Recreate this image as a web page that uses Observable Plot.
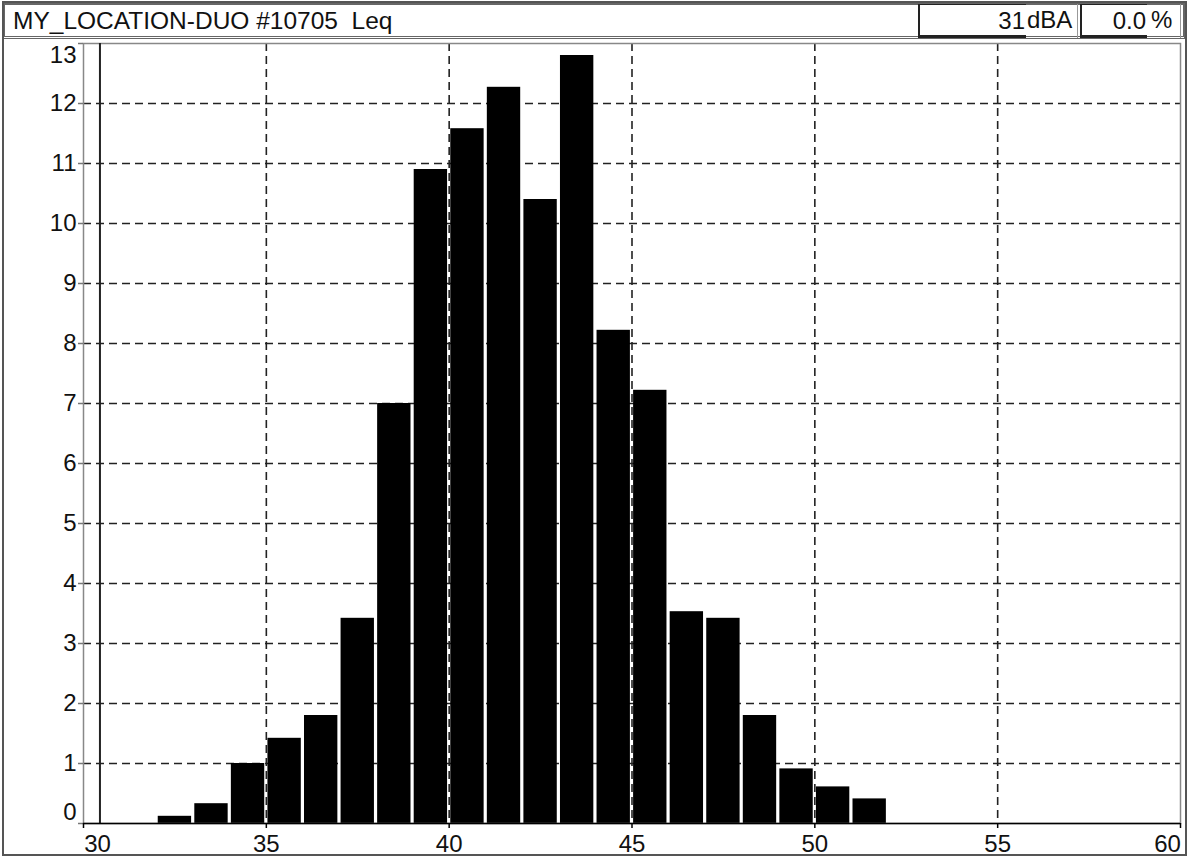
<!DOCTYPE html>
<html>
<head>
<meta charset="utf-8">
<script src="https://cdn.jsdelivr.net/npm/d3@7"></script>
<script src="https://cdn.jsdelivr.net/npm/@observablehq/plot@0.6"></script>
<style>
  html, body { margin: 0; padding: 0; background: #fff; }
  body { font-family: "Liberation Sans", Arial, sans-serif; color: #111; }
  #page { position: relative; width: 1190px; height: 858px; overflow: hidden; }
  #header { position: relative; height: 40px; }
  .cell { position: absolute; box-sizing: border-box; top: 4px; height: 34px; line-height: 32px; font-size: 24px; white-space: nowrap; }
  #outer { position: absolute; left: 2px; top: 1px; width: 1185px; height: 855px; box-sizing: border-box; border: 2px solid #555; pointer-events: none; }
</style>
</head>
<body>
<div id="page">
  <div id="header">
    <div class="cell" style="left:3px; top:3px; width:1182px; height:36px; border:2px solid #666; border-bottom:3px double #666;"></div>
    <div class="cell" id="title" style="left:13px; top:3px; line-height:36px; font-size:24.5px;"></div>
    <div class="cell" id="readout" style="left:918px; width:108px; text-align:right; padding-right:1px; border-left:2px solid #222; border-top:1px solid #222; border-bottom:3px solid #222;"></div>
    <div class="cell" id="unit" style="left:1026px; width:52px; padding-left:1px; border-right:1px solid #999;"></div>
    <div class="cell" id="pct" style="left:1080px; width:67px; text-align:right; padding-right:1px; border-left:2px solid #222; border-top:1px solid #222; border-bottom:3px solid #222;"></div>
    <div class="cell" id="pctUnit" style="left:1147px; width:34px; padding-left:4px; border-right:1px solid #999;"></div>
  </div>
  <div id="chart"></div>
  <div id="outer"></div>
</div>
<script>
// ---- data ----
const titleText = "MY_LOCATION-DUO #10705\u00a0\u00a0Leq";
const readoutValue = "31";
const readoutUnit = "dBA";
const percentValue = "0.0";
const percentUnit = "%";

// histogram bins (dBA, lower edge, 1 dB wide) and share of time (%)
const bins    = [32, 33, 34, 35, 36, 37, 38, 39, 40, 41, 42, 43, 44, 45, 46, 47, 48, 49, 50, 51];
const percent = [0.12, 0.33, 1.0, 1.42, 1.8, 3.42, 7.0, 10.9, 11.58, 12.27, 10.4, 12.8, 8.22, 7.22, 3.53, 3.42, 1.8, 0.91, 0.61, 0.41];

const xTicks = [30, 35, 40, 45, 50, 55, 60];
const yTicks = [0, 1, 2, 3, 4, 5, 6, 7, 8, 9, 10, 11, 12, 13];
const cursorDb = 30.45;

// ---- header ----
document.getElementById("title").textContent = titleText;
document.getElementById("readout").textContent = readoutValue;
document.getElementById("unit").textContent = readoutUnit;
document.getElementById("pct").textContent = percentValue;
document.getElementById("pctUnit").textContent = percentUnit;

// ---- chart ----
const rows = bins.map((b, i) => ({lo: b, hi: b + 1, value: percent[i]}));
const xMin = xTicks[0], xMax = xTicks[xTicks.length - 1];
const yMin = yTicks[0], yMax = yTicks[yTicks.length - 1];
const innerX = xTicks.slice(1, -1);
const innerY = yTicks.slice(1, -1);

const gridStyle = {stroke: "#222", strokeOpacity: 1, strokeWidth: 1.6, strokeDasharray: "8,5"};
const labelStyle = {fontSize: 24, fill: "#111", label: null, tickFormat: d => String(d)};

const chart = Plot.plot({
  width: 1190,
  height: 818,
  marginLeft: 83,
  marginRight: 10,
  marginTop: 3,
  marginBottom: 35,
  style: {fontFamily: "'Liberation Sans', Arial, sans-serif", fontSize: "24px", background: "#fff", color: "#111"},
  x: {domain: [xMin, xMax], axis: null, label: null},
  y: {domain: [yMin, yMax], axis: null, label: null},
  marks: [
    Plot.gridY(innerY, gridStyle),
    Plot.gridX(innerX, gridStyle),
    Plot.rectY(rows, {x1: "lo", x2: "hi", y: "value", fill: "#000", insetLeft: 1.6, insetRight: 1.6}),
    Plot.frame({stroke: "#888", strokeWidth: 1.5}),
    Plot.ruleX([cursorDb], {stroke: "#222", strokeWidth: 2}),
    Plot.ruleY([yMin], {stroke: "#000", strokeWidth: 1.5}),
    // y axis ticks + labels
    Plot.axisY(yTicks, {anchor: "left", tickSize: 5, fill: "none", stroke: "#777", strokeWidth: 1.5}),
    Plot.axisY(innerY, {anchor: "left", tickSize: 0, tickPadding: 7, ...labelStyle}),
    Plot.axisY([yMax], {anchor: "left", tickSize: 0, tickPadding: 7, dy: 12, ...labelStyle}),
    Plot.axisY([yMin], {anchor: "left", tickSize: 0, tickPadding: 7, dy: -11, ...labelStyle}),
    // x axis ticks + labels
    Plot.axisX(xTicks, {anchor: "bottom", tickSize: 5, fill: "none", stroke: "#000", strokeWidth: 1.5}),
    Plot.axisX(innerX, {anchor: "bottom", tickSize: 0, tickPadding: 11, ...labelStyle}),
    Plot.axisX([xMin], {anchor: "bottom", tickSize: 0, tickPadding: 11, dx: 14, ...labelStyle}),
    Plot.axisX([xMax], {anchor: "bottom", tickSize: 0, tickPadding: 11, dx: -13, ...labelStyle})
  ]
});
document.getElementById("chart").appendChild(chart);
</script>
</body>
</html>
